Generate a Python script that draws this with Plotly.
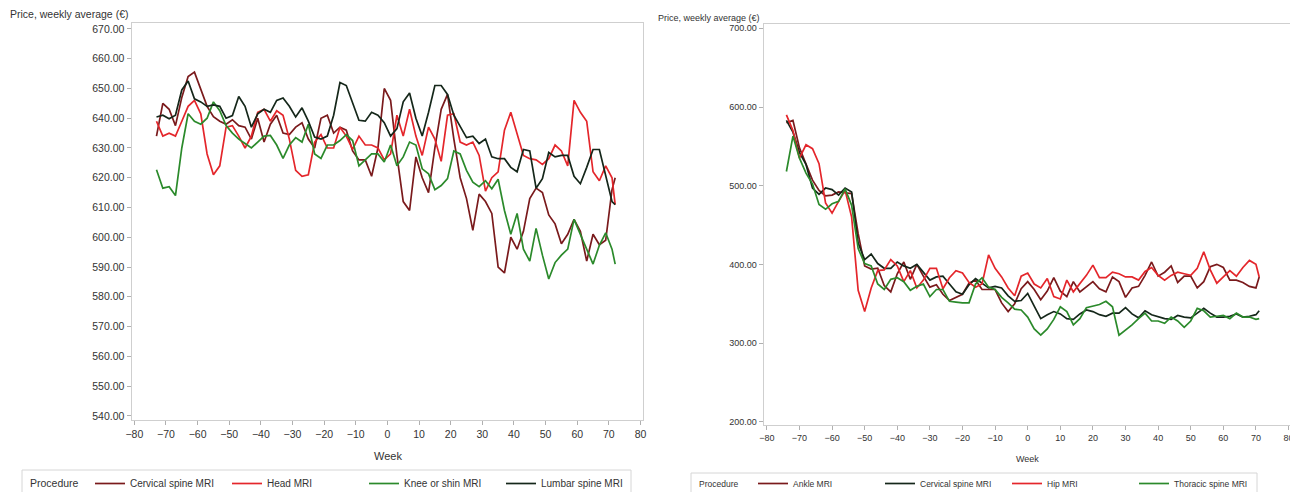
import plotly.graph_objects as go

# ---------------- Left panel data ----------------
weeks_left = list(range(-73, 72, 2)) + [72]

cervical_left = [634, 645, 643, 637.5, 647, 654, 655.5, 650, 644, 640.5, 639, 638, 639.5, 637.5,
                 637, 633, 640, 632, 638, 641, 635, 634.5, 637, 638.5, 633, 630, 640, 641, 635,
                 637, 636, 629, 626, 626, 620.5, 630, 650, 646, 627.5, 612, 609, 627, 620, 615,
                 630, 643, 648, 633, 620, 613, 602.3, 614.5, 612, 608, 590, 588, 600, 596, 602,
                 613, 616.5, 615, 607.5, 604.5, 597.8, 601, 606, 602, 592, 601, 597.5, 599, 616, 620]
head_left = [639, 634, 635, 634, 639, 644, 646, 641.5, 628, 621, 624, 637, 637.5, 634, 630, 634,
             642, 643, 639, 642.5, 641, 633, 622.5, 620.5, 621, 632, 634.5, 630, 630, 637, 634,
             629.5, 634, 631, 631, 630, 626, 628, 641, 634, 643, 634, 627.5, 637, 633, 625.5, 641,
             641.5, 632, 631, 632, 627.5, 615.5, 620, 622, 636, 642, 635, 627.5, 626.4, 626,
             624.5, 626.4, 631, 629, 624, 646, 642, 639, 622, 619, 624, 620, 611]
knee_left = [622.7, 616.5, 617, 614, 630, 641.5, 639, 638, 640, 645.5, 642.5, 637.5, 635, 633,
             631.5, 630, 632, 634, 634.2, 631, 626.5, 631, 633.5, 632, 638, 628, 626.5, 631, 631,
             632.5, 634.5, 632.5, 624, 626, 628, 628, 625.3, 631, 624, 627, 632, 631, 623, 621.3,
             616, 617.4, 619.7, 629, 628, 622.5, 618.5, 617, 619, 616.3, 619.5, 609, 601, 608,
             596, 592, 603, 594, 586, 591.5, 594, 596, 606, 601, 596, 591, 597.3, 601.5, 596, 591]
lumbar_left = [640.4, 641, 639.8, 641, 649.5, 652.5, 646.5, 645.5, 644, 644.5, 644, 640, 640.9,
               647.3, 644, 637, 641.5, 643, 642, 646, 646.8, 644, 640.4, 643.5, 639, 633.7, 633,
               634, 641, 652, 651, 645, 639.3, 639, 642, 641, 638.5, 634, 636.5, 645.5, 648.5, 640,
               634, 642, 651, 651, 648, 641, 637, 633.5, 634, 631.5, 633, 627, 626.4, 626.4, 623.5,
               622, 629.5, 629, 616.5, 619.7, 628.5, 627, 627.5, 627.5, 620.5, 618, 623.5, 629.5,
               629.5, 621, 612, 611]

# ---------------- Right panel data ----------------
weeks_right = list(range(-74, 71, 2)) + [71]

ankle_right = [580, 583, 548, 528, 507, 494, 487, 488, 492, 491, 490, 439, 398, 394, 395, 373,
               365, 388, 403, 381, 400, 385, 371, 374, 362, 354, 358, 362, 376, 380, 368, 368, 368,
               351, 340, 350, 369, 378, 368, 355, 366, 383, 366, 359, 378, 365, 372, 378, 369, 365,
               384, 378, 358, 370, 372, 386, 403, 385, 390, 398, 377, 385, 385, 370, 378, 397, 400,
               396, 380, 380, 377, 372, 370, 384]
cervical_right = [583, 568, 542, 527, 497, 489, 497, 495, 488, 497, 492, 427, 406, 413, 401, 395,
                  395, 403, 398, 395, 400, 390, 380, 384, 385, 375, 365, 362, 374, 382, 376, 370,
                  372, 370, 360, 353, 354, 363, 347, 331, 336, 340, 337, 331, 330, 337, 342, 340,
                  336, 334, 338, 338, 345, 337, 332, 341, 336, 333, 331, 330, 335, 333, 332, 338,
                  344, 338, 333, 333, 334, 337, 333, 334, 336, 341]
hip_right = [590, 570, 535, 552, 547, 528, 478, 465, 480, 494, 460, 367, 340, 370, 392, 393, 406,
             398, 378, 392, 370, 380, 395, 395, 369, 383, 392, 389, 377, 371, 375, 412, 395, 384,
             370, 360, 385, 389, 375, 370, 382, 359, 356, 380, 365, 376, 386, 399, 383, 383, 390,
             388, 384, 384, 380, 391, 396, 386, 380, 386, 390, 388, 386, 395, 416, 393, 376, 384,
             392, 385, 396, 405, 400, 384]
thoracic_right = [518, 563, 535, 516, 502, 476, 470, 477, 480, 496, 475, 420, 401, 398, 375, 368,
                  381, 383, 378, 367, 372, 375, 359, 368, 368, 353, 352, 351, 351, 375, 383, 371,
                  368, 358, 351, 343, 342, 333, 318, 310, 318, 330, 346, 340, 323, 331, 345, 347,
                  349, 353, 346, 310, 316, 323, 331, 338, 328, 328, 325, 333, 328, 320, 328, 344,
                  341, 333, 334, 335, 331, 338, 333, 333, 330, 331]

left_series = [("Cervical spine MRI", cervical_left, "#7a1a1c"),
               ("Head MRI", head_left, "#e4262b"),
               ("Knee or shin MRI", knee_left, "#2b8a2b"),
               ("Lumbar spine MRI", lumbar_left, "#15271a")]
right_series = [("Ankle MRI", ankle_right, "#7a1a1c"),
                ("Cervical spine MRI", cervical_right, "#15271a"),
                ("Hip MRI", hip_right, "#e4262b"),
                ("Thoracic spine MRI", thoracic_right, "#2b8a2b")]

x_ticks = list(range(-80, 81, 10))
left_yticks = list(range(540, 671, 10))
right_yticks = [200, 300, 400, 500, 600, 700]

W, H = 1298, 492
OFF = 8  # page body margin
FONT = "Liberation Sans, Arial, sans-serif"
TXT = "#333333"
FRAME = "#cfcfcf"

def px(x):
    return (x - OFF) / W

def py(y):
    return 1 - (y - OFF) / H

fig = go.Figure()
for name, vals, col in left_series:
    fig.add_trace(go.Scatter(x=weeks_left, y=vals, name=name, mode="lines",
                             line=dict(color=col, width=1.7), xaxis="x", yaxis="y",
                             legend="legend"))
for name, vals, col in right_series:
    fig.add_trace(go.Scatter(x=weeks_right, y=vals, name=name, mode="lines",
                             line=dict(color=col, width=1.7), xaxis="x2", yaxis="y2",
                             legend="legend2"))

axis_common = dict(showgrid=False, zeroline=False, showline=True, mirror=True,
                   linecolor=FRAME, linewidth=1, ticks="outside", ticklen=4,
                   tickcolor="#b0b0b0", automargin=False)

fig.update_layout(
    width=W, height=H,
    margin=dict(l=0, r=0, t=0, b=0, autoexpand=False),
    paper_bgcolor="white", plot_bgcolor="white",
    font=dict(family=FONT, color=TXT),
    xaxis=dict(domain=[px(131.5), px(642.7)], range=[-80.9, 80.7], tickvals=x_ticks,
               tickfont=dict(size=10.5), anchor="y", **axis_common),
    yaxis=dict(domain=[py(420), py(23.3)], range=[538.6, 671.9], tickvals=left_yticks,
               tickformat=".2f", tickfont=dict(size=10.5), anchor="x", **axis_common),
    xaxis2=dict(domain=[px(763.6), px(1290.5)], range=[-81, 80.6], tickvals=x_ticks,
                tickfont=dict(size=9), anchor="y2", **axis_common),
    yaxis2=dict(domain=[py(425), py(24)], range=[195.8, 705.5], tickvals=right_yticks,
                tickformat=".2f", tickfont=dict(size=9), anchor="x2", **axis_common),
    legend=dict(orientation="h", x=px(90), y=py(469), xanchor="left", yanchor="top",
                borderwidth=0, bgcolor="rgba(0,0,0,0)",
                font=dict(size=10, color=TXT),
                entrywidth=92, entrywidthmode="pixels", itemwidth=30, tracegroupgap=0),
    legend2=dict(orientation="h", x=px(753), y=py(469), xanchor="left", yanchor="top",
                 borderwidth=0, bgcolor="rgba(0,0,0,0)",
                 font=dict(size=8.5, color=TXT),
                 entrywidth=82, entrywidthmode="pixels", itemwidth=30, tracegroupgap=0),
    shapes=[
        dict(type="rect", xref="paper", yref="paper", x0=px(22), x1=px(631),
             y0=py(470), y1=py(500), line=dict(color="#d6d6d6", width=1), layer="below"),
        dict(type="rect", xref="paper", yref="paper", x0=px(691), x1=px(1257),
             y0=py(473), y1=py(500), line=dict(color="#d6d6d6", width=1), layer="below"),
    ],
    annotations=[
        dict(text="Price, weekly average (€)", x=px(8), y=py(14), xref="paper", yref="paper",
             xanchor="left", yanchor="middle", showarrow=False, font=dict(size=10.5)),
        dict(text="Week", x=px(388), y=py(456), xref="paper", yref="paper",
             xanchor="center", yanchor="middle", showarrow=False, font=dict(size=11)),
        dict(text="Price, weekly average (€)", x=px(656), y=py(18), xref="paper", yref="paper",
             xanchor="left", yanchor="middle", showarrow=False, font=dict(size=9)),
        dict(text="Week", x=px(1028), y=py(459), xref="paper", yref="paper",
             xanchor="center", yanchor="middle", showarrow=False, font=dict(size=9)),
        dict(text="Procedure", x=px(28), y=py(483), xref="paper", yref="paper",
             xanchor="left", yanchor="middle", showarrow=False, font=dict(size=10.5)),
        dict(text="Procedure", x=px(697), y=py(484), xref="paper", yref="paper",
             xanchor="left", yanchor="middle", showarrow=False, font=dict(size=8.5)),
    ],
    showlegend=True,
)

fig.write_html("out.html")
